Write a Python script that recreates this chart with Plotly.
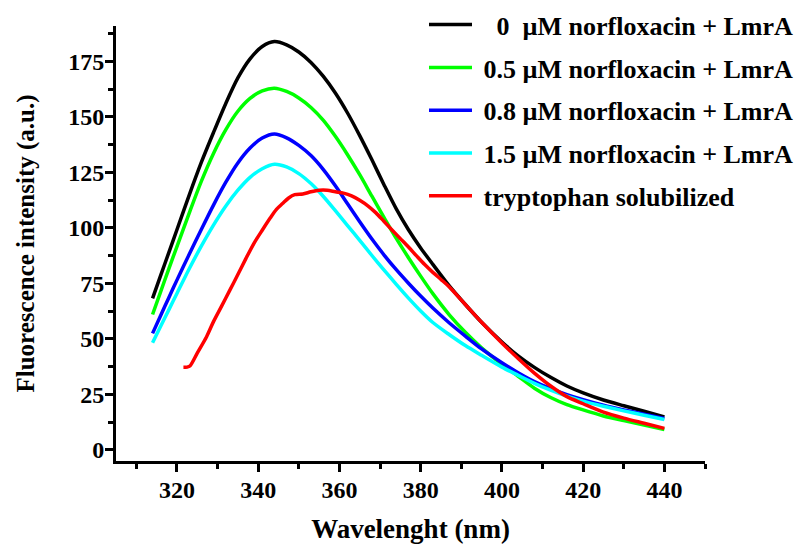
import plotly.graph_objects as go

# Emission wavelengths (nm) for the LmrA titration spectra
wavelength = [314, 316, 318, 320, 323, 326, 329, 332, 335, 338, 341, 344, 347, 350,
              353, 356, 359, 362, 365, 368, 371, 374, 377, 380, 383, 387, 391, 395,
              400, 404, 408, 412, 416, 420, 425, 430, 435, 440]

# Fluorescence intensity (a.u.) for each norfloxacin concentration
lmra_0 = [68.3, 78.6, 88.9, 99.2, 114.7, 129.5, 143.0, 156.0, 167.6, 176.2, 181.8, 184.0,
          182.5, 179.3, 174.6, 168.4, 160.8, 151.8, 141.6, 130.7, 119.4, 108.6, 99.2, 91.0,
          83.6, 74.0, 65.5, 57.5, 48.6, 42.4, 37.2, 32.7, 28.8, 25.7, 22.5, 19.9, 17.4, 14.9]
lmra_05 = [61.0, 71.3, 81.6, 91.6, 106.6, 121.0, 133.6, 144.2, 152.6, 158.4, 161.8, 163.0,
           161.5, 158.6, 154.3, 148.6, 141.3, 133.0, 124.0, 114.3, 104.7, 95.3, 86.6, 78.3,
           70.4, 61.0, 53.0, 46.0, 38.6, 33.2, 27.8, 23.6, 20.4, 18.0, 15.3, 13.2, 11.2, 9.2]
lmra_08 = [52.5, 60.6, 68.6, 76.5, 88.0, 99.3, 110.3, 120.5, 129.3, 136.0, 140.5, 142.3,
           140.6, 137.2, 132.6, 126.4, 119.0, 110.9, 102.8, 95.0, 87.8, 81.2, 75.1, 69.3,
           63.9, 57.3, 51.3, 45.5, 39.3, 34.8, 30.8, 27.6, 24.9, 22.6, 20.1, 18.0, 16.1, 14.2]
lmra_15 = [48.3, 55.7, 63.1, 70.5, 81.5, 91.8, 101.3, 109.8, 117.0, 122.8, 126.7, 128.7,
           127.5, 124.5, 120.0, 114.3, 107.8, 101.1, 94.4, 87.6, 81.0, 74.6, 68.4, 62.6,
           57.4, 52.0, 47.0, 42.6, 37.3, 33.6, 30.0, 26.9, 24.2, 22.0, 19.7, 17.6, 15.6, 13.7]

# Solubilized tryptophan reference spectrum
trp_wavelength = [321.6, 322.5, 323.2, 325, 327.3, 329, 331, 333, 335, 337, 339, 341, 343,
                  344.5, 346, 347.5, 349, 351, 353, 355, 357, 359, 361, 363, 365, 367, 369,
                  371, 373, 375, 377, 379, 381, 383, 385, 387, 391, 395, 400, 404, 408, 412,
                  416, 420, 425, 430, 435, 440]
trp = [37.2, 37.3, 37.8, 43.6, 51.0, 57.8, 64.8, 71.9, 79.0, 86.3, 93.2, 99.0, 104.6,
       108.4, 111.0, 113.5, 115.0, 115.3, 116.3, 117.0, 117.0, 116.3, 115.7, 114.5, 112.5,
       110.0, 106.8, 102.9, 99.0, 95.2, 91.4, 87.4, 83.5, 80.0, 76.8, 73.5, 65.5, 57.5,
       48.2, 41.2, 34.6, 28.8, 24.0, 20.8, 17.0, 14.3, 12.0, 9.7]

NB = "\u00a0"
series = [
    (NB * 3 + "0" + NB * 2 + "µM norfloxacin + LmrA", wavelength, lmra_0, "#000000"),
    (NB + "0.5 µM norfloxacin + LmrA", wavelength, lmra_05, "#00ff00"),
    (NB + "0.8 µM norfloxacin + LmrA", wavelength, lmra_08, "#0000ff"),
    (NB + "1.5 µM norfloxacin + LmrA", wavelength, lmra_15, "#00ffff"),
    (NB + "tryptophan solubilized", trp_wavelength, trp, "#ff0000"),
]

FONT = "Liberation Serif"

fig = go.Figure()
for i, (name, xs, ys, color) in enumerate(series):
    fig.add_trace(go.Scatter(
        x=xs, y=ys, name=name, mode="lines",
        line=dict(color=color, width=3.5, shape="spline", smoothing=0.8),
        legendgroup=f"g{i}",
    ))

axis_common = dict(
    showline=True, linewidth=3, linecolor="black",
    ticks="outside", ticklen=8, tickwidth=3, tickcolor="black",
    showgrid=False, zeroline=False, automargin=False,
    tickfont=dict(family=FONT, size=24, color="black", weight="bold"),
)

fig.update_layout(
    width=799, height=544,
    margin=dict(l=116, r=94, t=26, b=83, autoexpand=False),
    paper_bgcolor="white", plot_bgcolor="white",
    font=dict(family=FONT, color="black"),
    xaxis=dict(
        range=[305, 450], tick0=300, dtick=20, ticklabelstandoff=-3,
        minor=dict(dtick=10, ticks="outside", ticklen=5, tickwidth=3, tickcolor="black"),
        title=dict(text="Wavelenght (nm)", standoff=22,
                   font=dict(family=FONT, size=27, color="black", weight="bold")),
        **axis_common,
    ),
    yaxis=dict(
        range=[-5, 191], tick0=0, dtick=25, ticklabelstandoff=-4,
        minor=dict(dtick=12.5, ticks="outside", ticklen=5, tickwidth=3, tickcolor="black"),
        title=dict(text="Fluorescence intensity (a.u.)", standoff=27,
                   font=dict(family=FONT, size=25, color="black", weight="bold")),
        **axis_common,
    ),
    legend=dict(
        x=(424 - 116) / 589, y=1.057, xanchor="left", yanchor="top",
        bgcolor="rgba(0,0,0,0)", borderwidth=0,
        font=dict(family=FONT, size=26, color="black", weight="bold"),
        traceorder="grouped", tracegroupgap=6, itemwidth=43,
    ),
    showlegend=True,
)

fig.write_html("out.html")
